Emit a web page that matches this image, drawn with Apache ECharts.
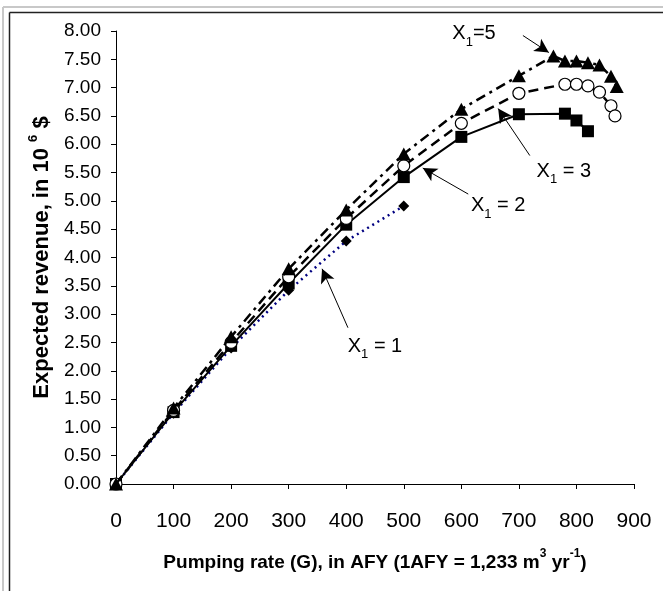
<!DOCTYPE html>
<html><head><meta charset="utf-8">
<script src="https://cdn.jsdelivr.net/npm/echarts@6/dist/echarts.min.js"></script>
<style>html,body{margin:0;padding:0;background:#fff}#c{width:663px;height:591px}</style>
</head><body><div id="c"></div>
<script>
// Data (pumping rate in AFY, expected revenue in 10^6 $)
var x1_1 = [0, 100, 200, 300, 400, 500];
var y1_1 = [0, 1.25, 2.40, 3.42, 4.29, 4.91];
var x1_2 = [0, 100, 200, 300, 400, 500, 600, 700, 780, 800, 820];
var y1_2 = [0, 1.27, 2.44, 3.54, 4.58, 5.42, 6.13, 6.53, 6.54, 6.42, 6.23];
var x1_3 = [0, 100, 200, 300, 400, 500, 600, 700, 780, 800, 820, 840, 860, 867];
var y1_3 = [0, 1.30, 2.50, 3.66, 4.69, 5.62, 6.37, 6.90, 7.06, 7.06, 7.03, 6.92, 6.68, 6.50];
var x1_5 = [0, 100, 200, 300, 400, 500, 600, 700, 760, 780, 800, 820, 840, 860, 870];
var y1_5 = [0, 1.34, 2.60, 3.80, 4.84, 5.83, 6.62, 7.21, 7.56, 7.47, 7.47, 7.44, 7.40, 7.20, 7.02];
var xTicks = [0, 100, 200, 300, 400, 500, 600, 700, 800, 900];
var yTicks = [0, 0.5, 1, 1.5, 2, 2.5, 3, 3.5, 4, 4.5, 5, 5.5, 6, 6.5, 7, 7.5, 8];
// Annotations: label value, separator, label centre, arrow start, arrow end (data units)
var annLabels = ['5', '3', '2', '1'];
var annEq = ['=', ' = ', ' = ', ' = '];
var annText = [[622, 7.99], [778, 5.56], [664, 4.95], [450, 2.47]];
var annFrom = [[707, 7.92], [719, 5.80], [612, 5.12], [403, 2.76]];
var annTo = [[752, 7.62], [664, 6.63], [533, 5.58], [358, 3.80]];

function pairs(xs, ys){ return xs.map(function(v,i){ return [v, ys[i]]; }); }

var chart = echarts.init(document.getElementById('c'), null, {renderer:'canvas'});
var FONT = 'Liberation Sans, Arial, sans-serif';
var markLineData = annFrom.map(function(f,i){ return [{coord:f},{coord:annTo[i]}]; });

var frame = [
  {type:'line', shape:{x1:3, y1:7, x2:3, y2:591}, style:{stroke:'#c8c8c8', lineWidth:2}, silent:true},
  {type:'line', shape:{x1:3, y1:7, x2:663, y2:7}, style:{stroke:'#c8c8c8', lineWidth:2}, silent:true},
  {type:'line', shape:{x1:9.5, y1:12.5, x2:9.5, y2:591}, style:{stroke:'#222', lineWidth:1.5}, silent:true},
  {type:'line', shape:{x1:9.5, y1:12.5, x2:663, y2:12.5}, style:{stroke:'#222', lineWidth:1.5}, silent:true}
];

chart.setOption({
  animation:false,
  backgroundColor:'#fff',
  grid:{left:116, right:29, top:31, bottom:107, containLabel:false},
  xAxis:{type:'value', min:0, max:900, interval:100,
    axisLine:{onZero:false, lineStyle:{color:'#000', width:1}},
    axisTick:{show:true, inside:false, length:5, lineStyle:{color:'#000'}},
    axisLabel:{color:'#000', fontSize:21, fontFamily:FONT, margin:27,
      formatter:function(v){ return xTicks.indexOf(v) >= 0 ? String(v) : ''; }},
    splitLine:{show:false},
    name:'{t|Pumping rate (G), in AFY (1AFY = 1,233 m}{s|3}{t| yr}{s|-1}{t|)}',
    nameLocation:'middle', nameGap:64,
    nameTextStyle:{rich:{t:{fontSize:19, fontWeight:'bold', fontFamily:FONT, color:'#000', verticalAlign:'bottom', lineHeight:24},
      s:{fontSize:12, fontWeight:'bold', fontFamily:FONT, color:'#000', verticalAlign:'top', lineHeight:24, padding:[0,0,10,0]}}}
  },
  yAxis:{type:'value', min:0, max:8, interval:0.5,
    axisLine:{show:true, onZero:false, lineStyle:{color:'#000', width:1}},
    axisTick:{show:true, inside:false, length:5, lineStyle:{color:'#000'}},
    axisLabel:{color:'#000', fontSize:19, fontFamily:FONT, margin:15,
      formatter:function(v){ return v.toFixed(2); }},
    splitLine:{show:false},
    name:'{t|Expected revenue, in 10 }{s|6}{t| $}',
    nameLocation:'middle', nameGap:63, nameRotate:90,
    nameTextStyle:{rich:{t:{fontSize:22, fontWeight:'bold', fontFamily:FONT, color:'#000', verticalAlign:'bottom', lineHeight:26},
      s:{fontSize:13, fontWeight:'bold', fontFamily:FONT, color:'#000', verticalAlign:'top', lineHeight:26, padding:[0,0,10,0]}}}
  },
  series:[
    {name:'X1 = 1', type:'line', data:pairs(x1_1,y1_1), z:2,
      lineStyle:{color:'#000080', width:2.5, type:[2,4]},
      symbol:'diamond', symbolSize:11, itemStyle:{color:'#000', borderWidth:0}, showAllSymbol:true},
    {name:'X1 = 2', type:'line', data:pairs(x1_2,y1_2), z:3,
      lineStyle:{color:'#000', width:2},
      symbol:'rect', symbolSize:12, itemStyle:{color:'#000', borderWidth:0}, showAllSymbol:true},
    {name:'X1 = 3', type:'line', data:pairs(x1_3,y1_3), z:4,
      lineStyle:{color:'#000', width:2.5, type:[10,6]},
      symbol:'circle', symbolSize:12, itemStyle:{color:'#fff', borderColor:'#000', borderWidth:1.2}, showAllSymbol:true},
    {name:'X1 = 5', type:'line', data:pairs(x1_5,y1_5), z:5,
      lineStyle:{color:'#000', width:2.5, type:[10,5,3,5]},
      symbol:'triangle', symbolSize:[14,13], itemStyle:{color:'#000', borderWidth:0}, showAllSymbol:true},
    {name:'ann', type:'scatter', data:[], z:6, silent:true,
      markLine:{silent:true, symbol:['none','arrow'], symbolSize:[11,14], animation:false,
        lineStyle:{color:'#000', width:1, type:'solid'}, label:{show:false}, data:markLineData}}
  ],
  graphic:frame
});

// Annotation texts positioned through the chart's own coordinate conversion
var texts = annText.map(function(p,i){
  var px = chart.convertToPixel({gridIndex:0}, p);
  return {type:'text', x:px[0], y:px[1], silent:true, z:100,
    style:{text:'{a|X}{b|1}{a|' + annEq[i] + annLabels[i] + '}', align:'center', verticalAlign:'middle',
      rich:{a:{fontSize:20, fontFamily:FONT, fill:'#000', lineHeight:24, verticalAlign:'bottom'},
            b:{fontSize:13, fontFamily:FONT, fill:'#000', lineHeight:24, verticalAlign:'bottom', padding:[0,0,-5,0]}}}};
});
chart.setOption({graphic:frame.concat(texts)});
</script></body></html>
